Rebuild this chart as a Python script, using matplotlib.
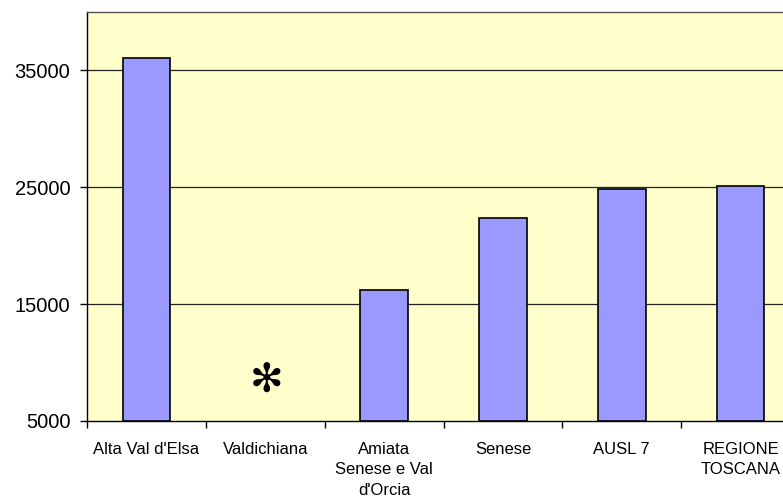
import matplotlib
matplotlib.use("Agg")
import matplotlib.pyplot as plt

categories = ["Alta Val d'Elsa", "Valdichiana", "Amiata\nSenese e Val\nd'Orcia",
              "Senese", "AUSL 7", "REGIONE\nTOSCANA"]
values = [36100, None, 16200, 22350, 24850, 25100]
ytick_values = [5000, 15000, 25000, 35000]
marker_value = 8450  # position of the asterisk for missing data

fig = plt.figure(figsize=(7.83, 5.01), dpi=100)
ax = fig.add_axes([87/783, 1 - 421/501, (800 - 87)/783, (421 - 12)/501])
ax.set_facecolor("#FFFFCC")

xs = list(range(len(categories)))
for x, v in zip(xs, values):
    if v is not None:
        ax.bar(x, v - 5000, bottom=5000, width=0.40, color="#9999FF",
               edgecolor="black", linewidth=1.2, zorder=3)
    else:
        ax.text(x + 0.01, marker_value, "\u273B", ha="center", va="center",
                fontsize=29, family=["DejaVu Sans"], zorder=4)

ax.set_ylim(5000, 40000)
ax.set_xlim(-0.5, len(categories) - 0.5)
ax.set_yticks(ytick_values)
ax.set_yticklabels([str(v) for v in ytick_values], family="Liberation Sans", fontsize=14.5)
for v in ytick_values[1:]:
    ax.axhline(v, color="#222222", linewidth=0.9, zorder=1)

ax.set_xticks([x for x in xs])
ax.set_xticklabels(categories, family="Liberation Sans", fontsize=12, linespacing=1.45)
ax.tick_params(axis="x", length=0, pad=15)
ax.set_xticks([x - 0.5 for x in xs] + [len(categories) - 0.5], minor=True)
ax.tick_params(axis="x", which="minor", length=5, direction="out", width=1)
ax.tick_params(axis="y", length=5, direction="out", width=1, pad=7)

for s in ["left", "bottom"]:
    ax.spines[s].set_color("black")
    ax.spines[s].set_linewidth(1)
for s in ["top", "right"]:
    ax.spines[s].set_color("#555555")
    ax.spines[s].set_linewidth(1)

fig.savefig("out.png", dpi=100, facecolor="white")
